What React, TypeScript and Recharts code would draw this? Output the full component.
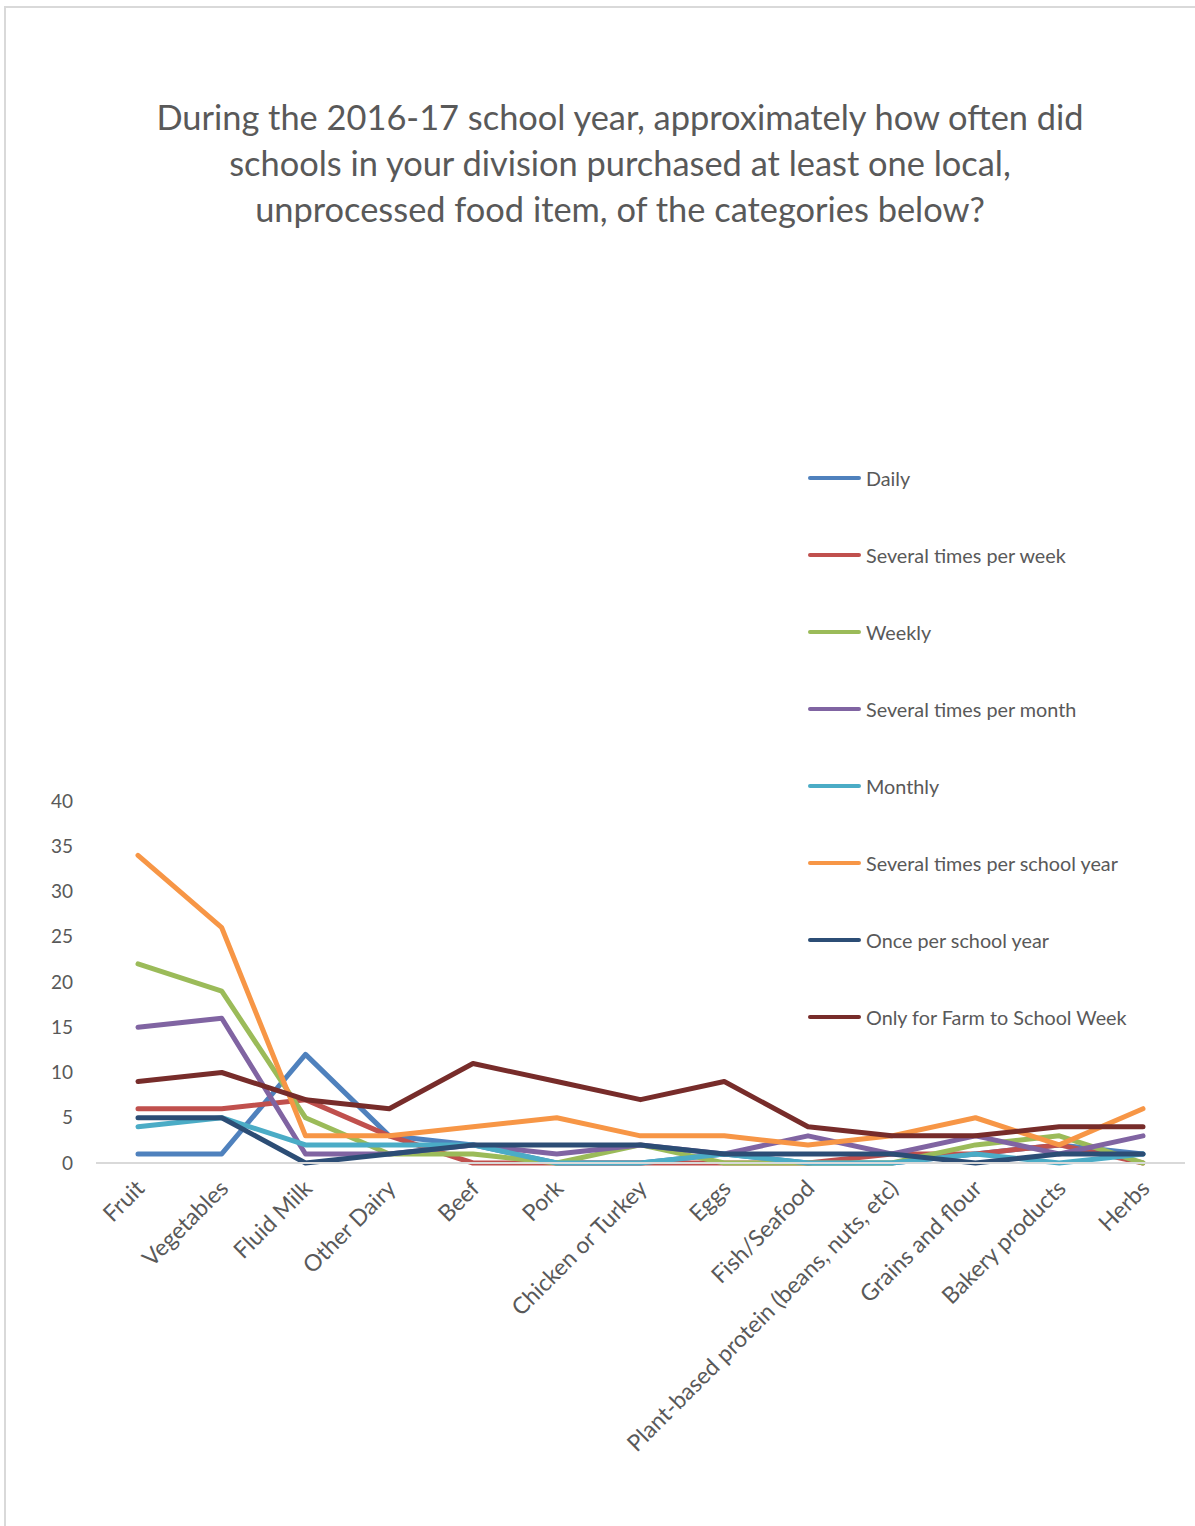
import { LineChart, Line, XAxis, YAxis } from "recharts";

const categories = [
  "Fruit",
  "Vegetables",
  "Fluid Milk",
  "Other Dairy",
  "Beef",
  "Pork",
  "Chicken or Turkey",
  "Eggs",
  "Fish/Seafood",
  "Plant-based protein (beans, nuts, etc)",
  "Grains and flour",
  "Bakery products",
  "Herbs",
];

const daily = [1, 1, 12, 3, 2, 0, 0, 1, 0, 0, 1, 2, 1];
const severalPerWeek = [6, 6, 7, 3, 0, 0, 0, 0, 0, 1, 1, 2, 0];
const weekly = [22, 19, 5, 1, 1, 0, 2, 0, 0, 0, 2, 3, 0];
const severalPerMonth = [15, 16, 1, 1, 2, 1, 2, 1, 3, 1, 3, 1, 3];
const monthly = [4, 5, 2, 2, 2, 0, 0, 1, 0, 0, 1, 0, 1];
const severalPerYear = [34, 26, 3, 3, 4, 5, 3, 3, 2, 3, 5, 2, 6];
const oncePerYear = [5, 5, 0, 1, 2, 2, 2, 1, 1, 1, 0, 1, 1];
const farmToSchoolWeek = [9, 10, 7, 6, 11, 9, 7, 9, 4, 3, 3, 4, 4];

const yTicks = [0, 5, 10, 15, 20, 25, 30, 35, 40];

const series = [
  { key: "daily", name: "Daily", values: daily, color: "#4F81BD" },
  { key: "week", name: "Several times per week", values: severalPerWeek, color: "#C0504D" },
  { key: "weekly", name: "Weekly", values: weekly, color: "#9BBB59" },
  { key: "month", name: "Several times per month", values: severalPerMonth, color: "#8064A2" },
  { key: "monthly", name: "Monthly", values: monthly, color: "#4BACC6" },
  { key: "year", name: "Several times per school year", values: severalPerYear, color: "#F79646" },
  { key: "once", name: "Once per school year", values: oncePerYear, color: "#2C4D75" },
  { key: "f2s", name: "Only for Farm to School Week", values: farmToSchoolWeek, color: "#772C2A" },
];

const data = categories.map((cat, i) => {
  const row: Record<string, string | number> = { cat };
  series.forEach((s) => {
    row[s.key] = s.values[i];
  });
  return row;
});

const FONT = "Lato, 'Open Sans', sans-serif";
const TEXT = "#595959";

const CatTick = (props: any) => {
  const { x, y, payload } = props;
  return (
    <g transform={`translate(${x + 3},${y + 14})`}>
      <text
        x={0}
        y={0}
        dy={7}
        textAnchor="end"
        transform="rotate(-45)"
        fill={TEXT}
        fontSize={23}
        fontFamily={FONT}
      >
        {payload.value}
      </text>
    </g>
  );
};

export default function App() {
  return (
    <div
      style={{
        position: "absolute",
        left: 0,
        top: 0,
        width: 1195,
        height: 1526,
        overflow: "hidden",
        background: "#fff",
        fontFamily: FONT,
      }}
    >
      <div
        style={{
          position: "absolute",
          left: 4,
          top: 6,
          width: 1400,
          height: 1700,
          borderLeft: "2px solid #d9d9d9",
          borderTop: "2px solid #d9d9d9",
        }}
      />
      <div
        style={{
          position: "absolute",
          left: 20,
          top: 94,
          width: 1200,
          textAlign: "center",
          fontSize: 34.4,
          lineHeight: "46px",
          color: TEXT,
        }}
      >
        During the 2016-17 school year, approximately how often did
        <br />
        schools in your division purchased at least one local,
        <br />
        unprocessed food item, of the categories below?
      </div>

      <div style={{ position: "absolute", left: 0, top: 0 }}>
        <LineChart
          width={1195}
          height={1526}
          data={data}
          margin={{ top: 801, right: 10, bottom: 63, left: 46 }}
        >
          <XAxis
            dataKey="cat"
            scale="point"
            padding={{ left: 42, right: 42 }}
            interval={0}
            height={300}
            tickLine={false}
            axisLine={{ stroke: "#d9d9d9", strokeWidth: 2 }}
            tick={<CatTick />}
          />
          <YAxis
            domain={[0, 40]}
            ticks={yTicks}
            width={50}
            axisLine={false}
            tickLine={false}
            tickSize={0}
            tickMargin={23}
            tick={{ fill: TEXT, fontSize: 19, fontFamily: FONT }}
          />
          {series.map((s) => (
            <Line
              key={s.key}
              dataKey={s.key}
              name={s.name}
              stroke={s.color}
              strokeWidth={5}
              strokeLinejoin="round"
              strokeLinecap="round"
              dot={false}
              activeDot={false}
              isAnimationActive={false}
            />
          ))}
        </LineChart>
      </div>

      {series.map((s, i) => (
        <div
          key={s.key}
          style={{
            position: "absolute",
            left: 808,
            top: 478 + i * 77 - 13,
            height: 26,
            display: "flex",
            alignItems: "center",
            fontSize: 19.8,
            color: TEXT,
            whiteSpace: "nowrap",
          }}
        >
          <span
            style={{
              display: "inline-block",
              width: 53,
              height: 4,
              borderRadius: 2,
              background: s.color,
              marginRight: 5,
            }}
          />
          {s.name}
        </div>
      ))}
    </div>
  );
}
